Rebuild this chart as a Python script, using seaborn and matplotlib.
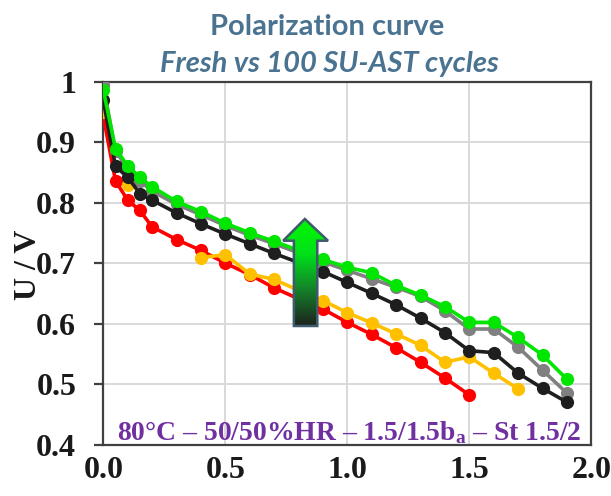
import numpy as np
import pandas as pd
import matplotlib
matplotlib.use("Agg")
import matplotlib.pyplot as plt
from matplotlib.patches import Polygon
from matplotlib.colors import LinearSegmentedColormap
import seaborn as sns

nan = np.nan
current = [0, 0.05, 0.1, 0.15, 0.2, 0.3, 0.4, 0.5, 0.6, 0.7, 0.8, 0.9, 1.0,
           1.1, 1.2, 1.3, 1.4, 1.5, 1.6, 1.7, 1.8, 1.9]
red = [0.943, 0.836, 0.804, 0.787, 0.760, 0.739, 0.721, 0.700, 0.681, 0.659, 0.641,
       0.624, 0.602, 0.582, 0.560, 0.536, 0.510, 0.482, nan, nan, nan, nan]
orange = [0.950, nan, 0.829, nan, nan, nan, 0.709, 0.714, 0.682, 0.673, 0.655,
          0.638, 0.618, 0.601, 0.583, 0.564, 0.536, 0.545, 0.518, 0.492, nan, nan]
gray = [0.994, 0.885, 0.857, 0.836, 0.819, 0.797, 0.780, 0.762, 0.746, 0.732, 0.717,
        0.702, 0.688, 0.674, 0.660, 0.645, 0.621, 0.591, 0.591, 0.561, 0.523, 0.485]
black = [0.969, 0.860, 0.842, 0.815, 0.804, 0.783, 0.765, 0.748, 0.732, 0.716, 0.701,
         0.686, 0.668, 0.650, 0.631, 0.609, 0.585, 0.555, 0.552, 0.518, 0.493, 0.470]
green = [0.986, 0.889, 0.861, 0.842, 0.826, 0.802, 0.785, 0.766, 0.750, 0.736, 0.721,
         0.706, 0.693, 0.684, 0.663, 0.647, 0.628, 0.602, 0.602, 0.577, 0.548, 0.508]

series = [("red", red, "#FF0000"), ("orange", orange, "#FFC000"),
          ("gray", gray, "#808080"), ("black", black, "#1E1E1E"),
          ("green", green, "#00E600")]

x_ticks = [0.0, 0.5, 1.0, 1.5, 2.0]
x_labels = ["0.0", "0.5", "1.0", "1.5", "2.0"]
y_ticks = [0.4, 0.5, 0.6, 0.7, 0.8, 0.9, 1.0]
y_labels = ["0.4", "0.5", "0.6", "0.7", "0.8", "0.9", "1"]

sns.set_style("white")
plt.rcParams["mathtext.fontset"] = "custom"
plt.rcParams["mathtext.rm"] = "Liberation Serif:bold"
plt.rcParams["mathtext.bf"] = "Liberation Serif:bold"

fig = plt.figure(figsize=(6.11, 4.96), dpi=100)
ax = fig.add_axes([103.3 / 611, 1 - 444.5 / 496, (591.3 - 103.3) / 611, (444.5 - 81.7) / 496])

for name, vals, col in series:
    df = pd.DataFrame({"x": current, "y": vals})
    valid = df["y"].notna()
    seg = (valid != valid.shift()).cumsum()
    df["seg"] = seg
    df = df[valid]
    sns.lineplot(data=df, x="x", y="y", units="seg", estimator=None, sort=False,
                 color=col, lw=2.6, marker="o", markersize=9.5, markeredgewidth=0,
                 ax=ax, legend=False, zorder=3)

# gradient arrow
cx = 0.829
bot, neck, tip = 0.596, 0.737, 0.773
hw, sw = 0.092, 0.048
pts = [(cx - sw, bot), (cx - sw, neck), (cx - hw, neck), (cx - 0.003, tip),
       (cx + hw, neck), (cx + sw, neck), (cx + sw, bot)]
poly = Polygon(pts, closed=True, facecolor="none", edgecolor="#3E5A6C", lw=1.8, zorder=6)
ax.add_patch(poly)
cmap = LinearSegmentedColormap.from_list("g", ["#1E221F", "#15802A", "#00E01A", "#00F800"])
grad = np.linspace(0, 1, 256).reshape(-1, 1)
im = ax.imshow(grad, cmap=cmap, origin="lower", aspect="auto",
               extent=[cx - hw, cx + hw, bot, tip], zorder=5)
im.set_clip_path(poly)

ax.set_xlim(0, 2.0)
ax.set_ylim(0.4, 1.0)
ax.set_xticks(x_ticks)
ax.set_xticklabels(x_labels)
ax.set_yticks(y_ticks)
ax.set_yticklabels(y_labels)
ax.grid(True, color="#D9D9D9", lw=1.4, zorder=0)
ax.set_axisbelow(True)
for s in ax.spines.values():
    s.set_color("#404040")
    s.set_linewidth(1.6)
    s.set_visible(True)

tick_font = dict(family="Liberation Serif", weight="bold", size=23)
for lab in ax.get_xticklabels() + ax.get_yticklabels():
    lab.set_fontfamily("Liberation Serif")
    lab.set_fontweight("bold")
    lab.set_fontsize(23)
    lab.set_color("#1A1A1A")
ax.tick_params(axis="x", length=0, pad=8)
ax.tick_params(axis="y", length=6.5, width=1.6, color="#404040", pad=13, left=True)
ax.set_xlabel("")
ax.set_ylabel("U / V", fontdict=tick_font, color="#1A1A1A")
ax.yaxis.set_label_coords(-0.124, 0.495)

ax.text(0.056, 0.408, r"80°C – 50/50%HR – 1.5/1.5$\mathrm{b_a}$ – St 1.5/2",
        fontfamily="Liberation Serif", fontweight="bold", fontsize=19.9,
        color="#7030A0", va="baseline", ha="left", zorder=7)

title_col = "#4A7391"
fig.text(327 / 611, 1 - 27 / 496, "Polarization curve", ha="center", va="center",
         fontfamily="Lato", fontweight="bold", fontsize=21, color=title_col)
fig.text(329 / 611, 1 - 64 / 496, "Fresh vs 100 SU-AST cycles", ha="center", va="center",
         fontfamily="Lato", fontweight="bold", fontstyle="italic", fontsize=21, color=title_col)

fig.savefig("out.png", dpi=100)
